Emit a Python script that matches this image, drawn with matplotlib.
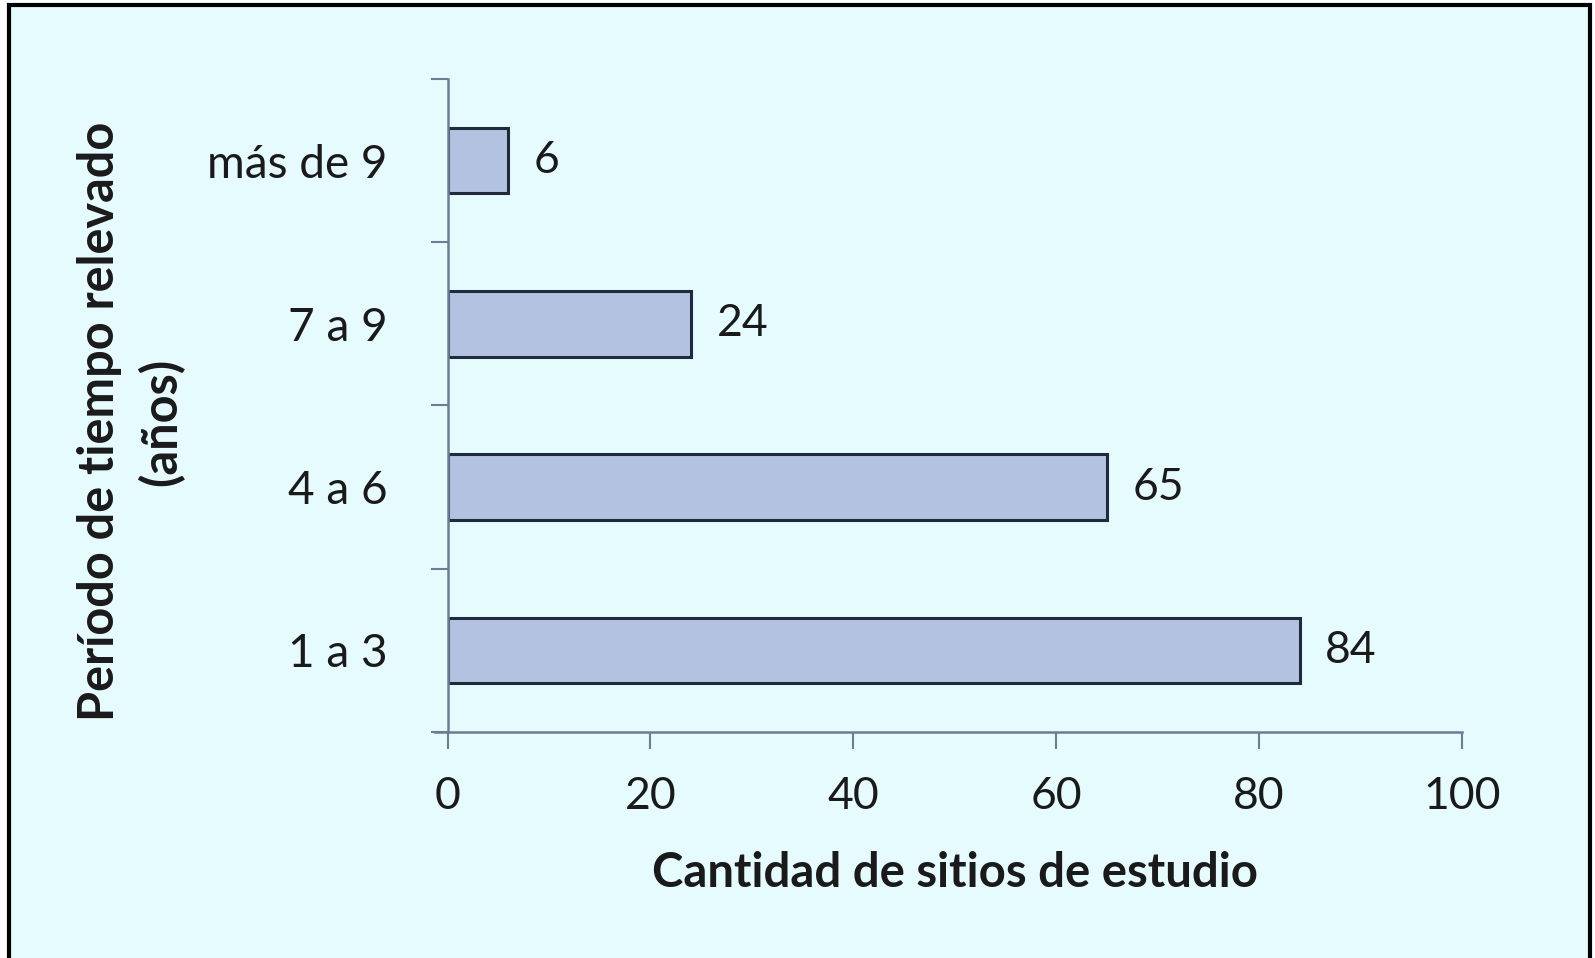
import matplotlib
matplotlib.use("Agg")
import matplotlib.pyplot as plt
from matplotlib.patches import Rectangle

# data
categorias = ["1 a 3", "4 a 6", "7 a 9", "más de 9"]
sitios = [84, 65, 24, 6]
xticks = [0, 20, 40, 60, 80, 100]

bg = "#E6FBFE"
bar_color = "#B3C2E0"
edge_color = "#1F2A3A"
axis_color = "#6B7C93"
text_color = "#1A1A1A"

plt.rcParams["font.family"] = ["Lato", "DejaVu Sans"]

fig = plt.figure(figsize=(15.95, 9.58), dpi=100, facecolor="white")

# panel background with border on left, top and right (bottom is cut off)
fig.patches.append(Rectangle((0.0056, -0.02), 0.9913, 1.0148,
                             transform=fig.transFigure, facecolor=bg,
                             edgecolor="black", linewidth=3, zorder=-5))

ax = fig.add_axes([0.2806, 0.236, 0.636, 0.6815], facecolor=bg)

ypos = list(range(len(categorias)))
bars = ax.barh(ypos, sitios, height=0.4, color=bar_color,
               edgecolor=edge_color, linewidth=2.2)

for y, v in zip(ypos, sitios):
    ax.text(v + 2.5, y, str(v), va="center", ha="left",
            fontsize=32, color=text_color)

ax.set_xlim(0, 100)
ax.set_ylim(-0.5, len(categorias) - 0.5)
ax.set_xticks(xticks)
ax.set_xticklabels([str(t) for t in xticks], fontsize=32, color=text_color)

# category labels sit between the boundary ticks
ax.set_yticks([y - 0.5 for y in ypos] + [len(categorias) - 0.5])
ax.set_yticklabels([])
ax.set_yticks(ypos, minor=True)
ax.set_yticklabels(categorias, minor=True, fontsize=33, color=text_color)
ax.tick_params(axis="y", which="minor", length=0, pad=43)
ax.tick_params(axis="y", which="major", length=12, width=1.5,
               color=axis_color, direction="out")
ax.tick_params(axis="x", length=12, width=1.5, color=axis_color,
               direction="out", pad=20)

for side in ["top", "right"]:
    ax.spines[side].set_visible(False)
for side in ["left", "bottom"]:
    ax.spines[side].set_color(axis_color)
    ax.spines[side].set_linewidth(1.8)
ax.spines["bottom"].set_bounds(-1.2, 100)

ax.set_xlabel("Cantidad de sitios de estudio", fontsize=34,
              fontweight="bold", color=text_color, labelpad=24)
ax.set_ylabel("Período de tiempo relevado\n(años)", fontsize=35,
              fontweight="bold", color=text_color, linespacing=1.4)
ax.yaxis.set_label_coords(-0.259, 0.475)

fig.savefig("out.png", dpi=100, facecolor="white")
